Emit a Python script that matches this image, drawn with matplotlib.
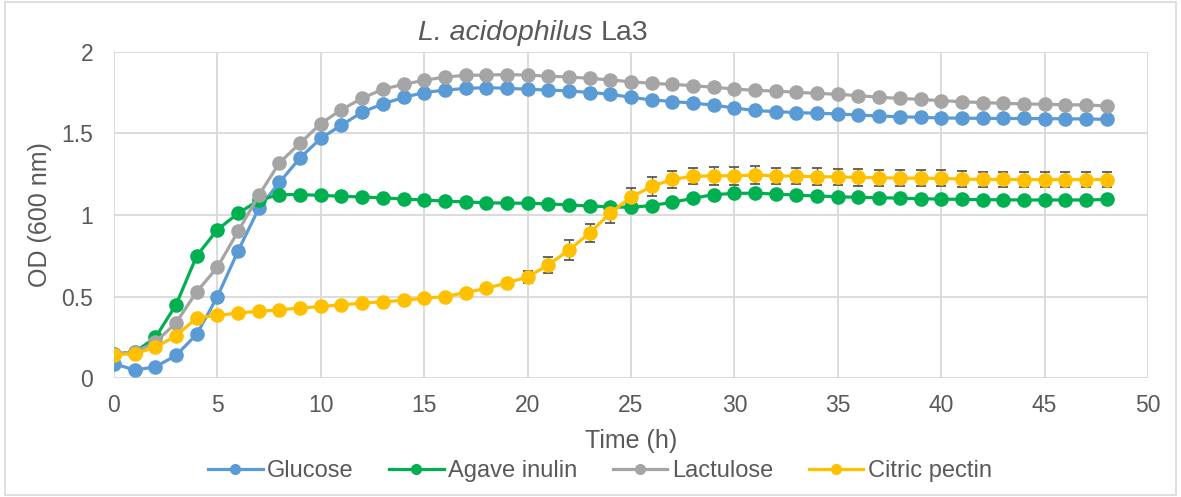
import matplotlib
matplotlib.use("Agg")
import matplotlib.pyplot as plt
from matplotlib.patches import Rectangle
from matplotlib.lines import Line2D

plt.rcParams['font.family'] = ['Liberation Sans', 'DejaVu Sans']

time_h = list(range(49))

glucose = [0.09, 0.05, 0.07, 0.14, 0.27, 0.50, 0.78, 1.04, 1.20, 1.35,
           1.47, 1.55, 1.63, 1.68, 1.72, 1.75, 1.765, 1.775, 1.78, 1.776,
           1.77, 1.765, 1.76, 1.75, 1.74, 1.72, 1.705, 1.695, 1.685, 1.673,
           1.655, 1.64, 1.633, 1.627, 1.623, 1.619, 1.612, 1.606, 1.602, 1.598,
           1.594, 1.593, 1.592, 1.591, 1.591, 1.590, 1.589, 1.588, 1.586]

agave_inulin = [0.15, 0.16, 0.25, 0.45, 0.75, 0.91, 1.01, 1.09, 1.125, 1.125,
                1.12, 1.115, 1.11, 1.105, 1.098, 1.092, 1.085, 1.08, 1.075, 1.073,
                1.072, 1.068, 1.062, 1.055, 1.05, 1.047, 1.058, 1.078, 1.102, 1.125,
                1.132, 1.134, 1.128, 1.122, 1.116, 1.112, 1.108, 1.106, 1.103, 1.10,
                1.097, 1.096, 1.094, 1.093, 1.092, 1.092, 1.092, 1.092, 1.095]

lactulose = [0.15, 0.16, 0.22, 0.34, 0.53, 0.68, 0.90, 1.12, 1.32, 1.44,
             1.56, 1.645, 1.715, 1.77, 1.80, 1.825, 1.845, 1.855, 1.857, 1.86,
             1.857, 1.85, 1.845, 1.837, 1.827, 1.816, 1.806, 1.80, 1.792, 1.782,
             1.772, 1.763, 1.759, 1.751, 1.745, 1.739, 1.731, 1.721, 1.714, 1.708,
             1.70, 1.694, 1.688, 1.684, 1.68, 1.678, 1.675, 1.674, 1.668]

citric_pectin = [0.145, 0.15, 0.19, 0.26, 0.37, 0.385, 0.40, 0.41, 0.42, 0.43,
                 0.44, 0.45, 0.46, 0.469, 0.478, 0.49, 0.50, 0.525, 0.55, 0.585,
                 0.62, 0.695, 0.785, 0.89, 1.012, 1.11, 1.175, 1.218, 1.237, 1.24,
                 1.24, 1.245, 1.24, 1.238, 1.235, 1.233, 1.23, 1.228, 1.226, 1.225,
                 1.224, 1.22, 1.218, 1.218, 1.217, 1.217, 1.217, 1.217, 1.217]

citric_pectin_err = [0.01, 0.01, 0.01, 0.01, 0.01, 0.01, 0.01, 0.01, 0.01, 0.01,
                     0.01, 0.01, 0.01, 0.01, 0.01, 0.01, 0.01, 0.01, 0.015, 0.02,
                     0.036, 0.05, 0.06, 0.053, 0.058, 0.057, 0.056, 0.053, 0.05, 0.054,
                     0.054, 0.053, 0.05, 0.05, 0.05, 0.05, 0.05, 0.05, 0.049, 0.049,
                     0.049, 0.048, 0.048, 0.048, 0.048, 0.048, 0.048, 0.048, 0.048]

series_names = ["Glucose", "Agave inulin", "Lactulose", "Citric pectin"]
series_colors = ["#5B9BD5", "#00B050", "#A5A5A5", "#FFC000"]
x_ticks = [0, 5, 10, 15, 20, 25, 30, 35, 40, 45, 50]
y_ticks = [0, 0.5, 1, 1.5, 2]
title_italic = "L. acidophilus"
title_normal = "La3"

text_color = "#595959"
grid_color = "#D9D9D9"

W, H = 1181, 497
fig = plt.figure(figsize=(W / 100, H / 100), dpi=100)
ax = fig.add_axes([114 / W, 1 - 378.3 / H, (1148 - 114) / W, (378.3 - 51.7) / H])

series = [glucose, agave_inulin, lactulose, citric_pectin]
handles = []
for i, (name, vals, col) in enumerate(zip(series_names, series, series_colors)):
    ax.plot(time_h, vals, color=col, lw=2.3, marker='o', markersize=10.5,
            markeredgewidth=0, zorder=3 + i * 0.1)
    handles.append(Line2D([], [], color=col, lw=2.3, marker='o', markersize=8,
                          markeredgewidth=0, label=name))

ax.errorbar(time_h, citric_pectin, yerr=citric_pectin_err, fmt='none',
            ecolor="#595959", elinewidth=1.0, capsize=3.8, capthick=1.3, zorder=2.5)

ax.set_xlim(0, 50)
ax.set_ylim(0, 2)
ax.set_xticks(x_ticks)
ax.set_yticks(y_ticks)
ax.set_yticklabels([f"{v:g}" for v in y_ticks])
ax.grid(True, color=grid_color, lw=1.3, zorder=0)
ax.set_axisbelow(True)
for s in ax.spines.values():
    s.set_visible(False)
ax.tick_params(length=0, labelsize=16.5, colors=text_color)
ax.tick_params(axis='x', pad=11)
ax.tick_params(axis='y', pad=15)

ax.set_xlabel("Time (h)", fontsize=18, color=text_color, labelpad=9)
ax.set_ylabel("OD (600 nm)", fontsize=18, color=text_color, labelpad=7)

# title: italic species + normal strain, centred at x=533 px
renderer = fig.canvas.get_renderer()
ti = fig.text(0, 1 - 33 / H, title_italic + " ", fontsize=20.5, style='italic',
              color=text_color, ha='left', va='center')
tn = fig.text(0, 1 - 33 / H, title_normal, fontsize=20.5,
              color=text_color, ha='left', va='center')
wi = ti.get_window_extent(renderer).width
wn = tn.get_window_extent(renderer).width
x0 = 533 - (wi + wn) / 2
ti.set_x(x0 / W)
tn.set_x((x0 + wi) / W)

leg = fig.legend(handles=handles, loc='center', bbox_to_anchor=(600 / W, 1 - 471 / H), ncol=4,
                 frameon=False, fontsize=17, handlelength=2.3, columnspacing=1.5,
                 handletextpad=0.2, borderpad=0)
for t in leg.get_texts():
    t.set_color(text_color)

fig.patches.append(Rectangle((0.004, 0.004), 0.992, 0.992, transform=fig.transFigure,
                             fill=False, edgecolor=grid_color, lw=1.2))

fig.savefig("out.png", dpi=100)
